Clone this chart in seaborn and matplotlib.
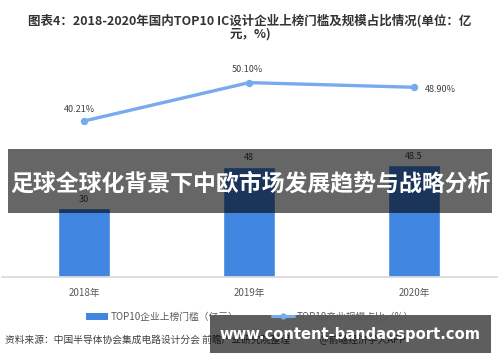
import numpy as np
import pandas as pd
import matplotlib
matplotlib.use("Agg")
import matplotlib.pyplot as plt
import seaborn as sns
from matplotlib.patches import Patch, Rectangle
from matplotlib.lines import Line2D

years = ["2018年", "2019年", "2020年"]
threshold = [30, 48, 48.5]            # TOP10企业上榜门槛（亿元）
share = [40.21, 50.10, 48.90]         # TOP10产业规模占比（%）
share_labels = ["40.21%", "50.10%", "48.90%"]

title = "图表4：2018-2020年国内TOP10 IC设计企业上榜门槛及规模占比情况(单位：亿\n元，%)"
banner = "足球全球化背景下中欧市场发展趋势与战略分析"
source = "资料来源：中国半导体协会集成电路设计分会 前瞻产业研究院整理              @前瞻经济学人APP"
site = "www.content-bandaosport.com"

bar_color = "#4186e0"
line_color = "#78aaee"

sns.set_theme(style="white")
plt.rcParams['font.family'] = ['Noto Sans CJK SC', 'DejaVu Sans']

df = pd.DataFrame({"year": years, "threshold": threshold, "share": share})

fig = plt.figure(figsize=(5, 3.62), dpi=100)
ax = fig.add_axes([0.003, 0.2348, 0.99, 0.627])

sns.barplot(data=df, x="year", y="threshold", color=bar_color, width=0.31,
            saturation=1, ax=ax)
ax.bar_label(ax.containers[0], labels=[f"{v:g}" for v in threshold],
             fontsize=6.5, color="#404040", padding=3)
ax.set_ylim(0, 98.7)
ax.set_xlim(-0.5, 2.5)
ax.set_xlabel("")
ax.set_ylabel("")
ax.set_yticks([])
for s in ["top", "left", "right"]:
    ax.spines[s].set_visible(False)
ax.spines["bottom"].set_color("#d9d9d9")
ax.tick_params(axis="x", length=0, pad=8, labelsize=7, labelcolor="#595959")

ax2 = ax.twinx()
sns.pointplot(data=df, x="year", y="share", color=line_color, ax=ax2,
              markersize=3.5, linewidth=2.4)
ax2.set_ylim(0, 58.5)
ax2.set_xlim(-0.5, 2.5)
ax2.set_ylabel("")
ax2.set_yticks([])
for s in ["top", "left", "right", "bottom"]:
    ax2.spines[s].set_visible(False)

offsets = [(-5, 11), (-2, 13), (26, -2)]
for i, (v, lab) in enumerate(zip(share, share_labels)):
    ax2.annotate(lab, (i, v), xytext=offsets[i], textcoords="offset pixels",
                 ha="center", va="center", fontsize=6.5, color="#404040")

fig.text(0.5, 0.925, title, ha="center", va="center", fontsize=9,
         fontweight="bold", color="#333333", linespacing=0.95)

handles = [Patch(facecolor=bar_color, edgecolor="none"),
           Line2D([0], [0], color=line_color, lw=2.2, marker="o", markersize=3.5)]
fig.legend(handles, ["TOP10企业上榜门槛（亿元）", "TOP10产业规模占比（%）"],
           loc="center", bbox_to_anchor=(0.5, 0.125), ncol=2, frameon=False,
           fontsize=7, labelcolor="#595959", handlelength=2.2,
           columnspacing=3.5, handletextpad=0.3)

fig.text(0.01, 0.06, source, ha="left", va="center", fontsize=7, color="#404040")

# overlay banner across the middle
fig.patches.append(Rectangle((0.016, (362 - 213) / 362), 0.968, 64 / 362,
                             transform=fig.transFigure, facecolor="black",
                             alpha=0.6, edgecolor="none", zorder=5))
fig.text(0.5, (362 - 184) / 362, banner, ha="center", va="center",
         fontsize=16.5, fontweight="bold", color="white", zorder=6)

# site watermark box
fig.patches.append(Rectangle((0.42, (362 - 353) / 362), 0.562, 38 / 362,
                             transform=fig.transFigure, facecolor="black",
                             alpha=0.63, edgecolor="none", zorder=5))
fig.text(0.70, (362 - 334) / 362, site, ha="center", va="center",
         fontsize=10.6, fontweight="bold", color="white", zorder=6,
         family=["DejaVu Sans"])

fig.savefig("out.png", dpi=100)
